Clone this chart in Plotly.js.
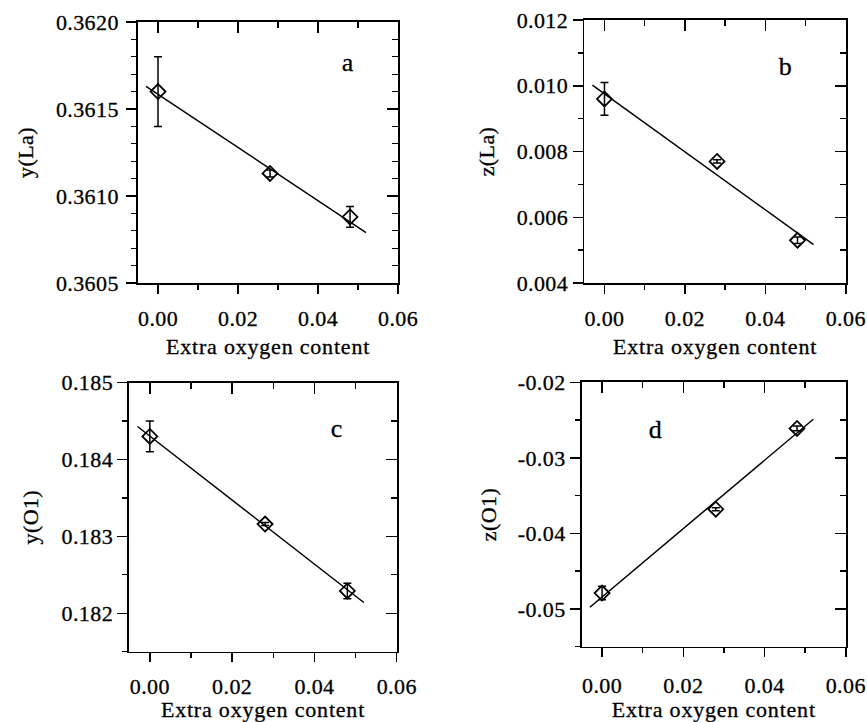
<!DOCTYPE html>
<html><head><meta charset="utf-8">
<script src="https://cdn.plot.ly/plotly-3.0.1.min.js"></script>
<style>
html,body{margin:0;padding:0;background:#fff;}
#chart{width:867px;height:722px;}
#chart svg text{letter-spacing:0.4px !important;stroke:#000;stroke-width:0.3px;}
#chart svg .g-xtitle text,#chart svg .g-x2title text,#chart svg .g-x3title text,#chart svg .g-x4title text{letter-spacing:0.8px !important;}
</style></head><body><div id="chart"></div>
<script>
// ---- data ----
const xData = [0, 0.028, 0.048];
const yLa = [0.3616, 0.36113, 0.36088];
const yLaErr = [0.0002, 0.00002, 0.00006];
const zLa = [0.0096, 0.0077, 0.0053];
const zLaErr = [0.0005, 0.00005, 0.0001];
const yO1 = [0.1843, 0.18316, 0.18229];
const yO1Err = [0.0002, 0.00002, 0.0001];
const zO1 = [-0.0479, -0.0368, -0.0261];
const zO1Err = [0.0009, 0.0002, 0.0003];
const fitX = [-0.003, 0.052];
const fitYLa = [0.36163, 0.36079];
const fitZLa = [0.01002, 0.00517];
const fitYO1 = [0.18443, 0.18214];
const fitZO1 = [-0.04978, -0.02489];
const xTitle = 'Extra oxygen content';
const yTitles = ['y(La)', 'z(La)', 'y(O1)', 'z(O1)'];
const panelLabels = ['a', 'b', 'c', 'd'];
const zO1TickVals = [-0.05, -0.04, -0.03, -0.02];
const zO1TickText = ['-0.05', '-0.04', '-0.03', '-0.02'];

const FONT = 'Liberation Serif, Times New Roman, serif';
const FS = 22;
const series = [yLa, zLa, yO1, zO1];
const errs = [yLaErr, zLaErr, yO1Err, zO1Err];
const fits = [fitYLa, fitZLa, fitYO1, fitZO1];

const cfg = [
  {xd:[0.1592,0.4591], yd:[0.6080,0.9695], yr:[0.3605,0.3620], dtick:0.0005, minor:0.0001, fmt:'.4f', xtls:6, xstand:8, ystand:19, ytls:3, ax:0.0475, ay:0.36177},
  {xd:[0.6740,0.9755], yd:[0.6080,0.9723], yr:[0.004,0.012], dtick:0.002, minor:0.001, fmt:'.3f', xtls:6, xstand:8, ystand:18, ytls:2.5, ax:0.0449, ay:0.0106},
  {xd:[0.1491,0.4576], yd:[0.0974,0.4700], yr:[0.1815,0.185], dtick:0.001, minor:0.0005, fmt:'.3f', xtls:5, xstand:6, ystand:19, ytls:6.5, ax:0.0455, ay:0.1844},
  {xd:[0.6710,0.9755], yd:[0.1043,0.4705], yr:[-0.055,-0.02], dtick:0.01, minor:0.005, fmt:'.2f', xtls:9, xstand:6, ystand:17, ytls:6.5, ax:0.0131, ay:-0.0263}
];

const traces = [];
const layout = {
  width: 867, height: 722,
  margin: {l:0, r:0, t:0, b:0},
  paper_bgcolor: '#fff', plot_bgcolor: '#fff',
  showlegend: false,
  font: {family: FONT, color: '#000', size: FS},
  annotations: []
};

cfg.forEach((c, i) => {
  const n = i + 1;
  const xs = n === 1 ? '' : String(n);
  const xa = 'x' + xs, ya = 'y' + xs;
  traces.push({
    x: fitX, y: fits[i], xaxis: xa, yaxis: ya, type: 'scatter', mode: 'lines',
    line: {color: '#000', width: 1.5}, hoverinfo: 'skip'
  });
  traces.push({
    x: xData, y: series[i], xaxis: xa, yaxis: ya, type: 'scatter', mode: 'markers',
    marker: {symbol: 'diamond-open', size: 11.5, color: '#000', line: {color: '#000', width: 1.8}},
    error_y: {type: 'data', array: errs[i], visible: true, color: '#000', thickness: 1.5, width: 4}
  });
  const xr = [-0.005, 0.06];
  layout['xaxis' + xs] = {
    domain: c.xd, anchor: ya, range: xr, dtick: 0.02, tick0: 0, tickformat: '.2f',
    showgrid: false, zeroline: false, showline: true, mirror: true, linecolor: '#000', linewidth: 1.8,
    ticks: 'outside', ticklen: 9, tickwidth: 1.5, tickcolor: '#000', ticklabelstandoff: c.xtls,
    minor: {dtick: 0.01, ticks: 'outside', ticklen: 5, tickwidth: 1.3, tickcolor: '#000'},
    tickfont: {family: FONT, size: FS, color: '#000'},
    title: {text: xTitle, font: {family: FONT, size: FS, color: '#000'}, standoff: c.xstand}
  };
  const yax = {
    domain: c.yd, anchor: xa, range: c.yr, dtick: c.dtick, tick0: 0, tickformat: c.fmt,
    showgrid: false, zeroline: false, showline: true, mirror: true, linecolor: '#000', linewidth: 1.8,
    ticks: 'outside', ticklen: 10, tickwidth: 1.5, tickcolor: '#000', ticklabelstandoff: c.ytls,
    minor: {dtick: c.minor, ticks: 'outside', ticklen: 5, tickwidth: 1.3, tickcolor: '#000'},
    tickfont: {family: FONT, size: FS, color: '#000'},
    title: {text: yTitles[i], font: {family: FONT, size: FS, color: '#000'}, standoff: c.ystand}
  };
  if (i === 3) { yax.tickmode = 'array'; yax.tickvals = zO1TickVals; yax.ticktext = zO1TickText; }
  layout['yaxis' + xs] = yax;
  const tn = String(n + 4);
  layout['xaxis' + tn] = {
    overlaying: xa, anchor: ya, side: 'top', range: xr, dtick: 0.02, tick0: 0,
    showgrid: false, zeroline: false, showline: false, showticklabels: false,
    ticks: 'inside', ticklen: 11, tickwidth: 1.5, tickcolor: '#000',
    minor: {dtick: 0.01, ticks: 'inside', ticklen: 6, tickwidth: 1.3, tickcolor: '#000'}
  };
  layout['yaxis' + tn] = {
    overlaying: ya, anchor: xa, side: 'right', range: c.yr, dtick: c.dtick, tick0: 0,
    showgrid: false, zeroline: false, showline: false, showticklabels: false,
    ticks: 'inside', ticklen: 11, tickwidth: 1.5, tickcolor: '#000',
    minor: {dtick: c.minor, ticks: 'inside', ticklen: 6, tickwidth: 1.3, tickcolor: '#000'}
  };
  traces.push({x: [], y: [], xaxis: 'x' + tn, yaxis: 'y' + tn, type: 'scatter', mode: 'markers', hoverinfo: 'skip'});
  layout.annotations.push({
    xref: xa, yref: ya, x: c.ax, y: c.ay, text: panelLabels[i], showarrow: false,
    font: {family: FONT, size: 26, color: '#000'}
  });
});

Plotly.newPlot('chart', traces, layout, {staticPlot: true, displayModeBar: false});
</script></body></html>
